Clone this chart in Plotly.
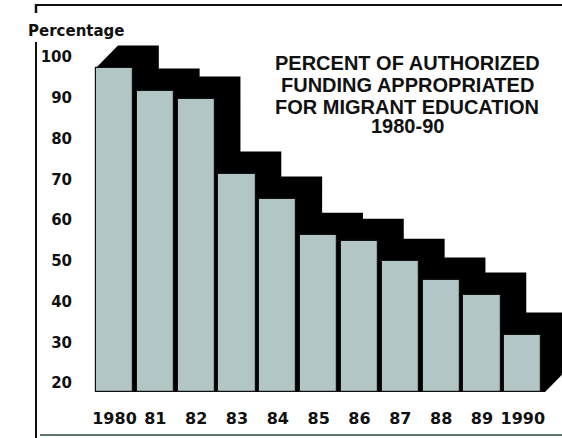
import plotly.graph_objects as go

# ---- data ----
years = ["1980", "81", "82", "83", "84", "85", "86", "87", "88", "89", "1990"]
percent = [97.3, 91.7, 89.7, 71.3, 65.2, 56.3, 54.8, 49.9, 45.3, 41.6, 31.8]
y_ticks = [20, 30, 40, 50, 60, 70, 80, 90, 100]
title_lines = ["PERCENT OF AUTHORIZED", "FUNDING APPROPRIATED",
               "FOR MIGRANT EDUCATION", "1980-90"]
y_title = "Percentage"

# ---- layout constants ----
FIG_W, FIG_H = 562, 438
ML, MR, MT, MB = 80, 0, 30, 46
PW, PH = FIG_W - ML - MR, FIG_H - MT - MB
X_RANGE = [-0.845, 10.96]
Y_RANGE = [17.79, 106.63]
BASE = Y_RANGE[0]
BAR_W = 0.91
GAP = 1 - BAR_W
DX, DY = 0.54, 5.5          # depth offset of the black "shadow"
FACE = "#b3c6c6"
INK = "#111111"
FONT = "Liberation Sans"
FONT_W = "DejaVu Sans"


def px(xp):
    return (xp - ML) / PW


def py(yp):
    return (FIG_H - MB - yp) / PH


idx = list(range(len(years)))

fig = go.Figure()

# front faces of the bars
fig.add_trace(go.Bar(
    x=idx, y=[p - BASE for p in percent], base=BASE, width=BAR_W,
    marker=dict(color=FACE, line=dict(color=INK, width=1.2)),
    hoverinfo="skip", showlegend=False,
))

shapes = []
# black extruded depth for each bar (data coordinates)
for i, v in zip(idx, percent):
    x0, x1 = i - BAR_W / 2, i + BAR_W / 2
    xr = x1 + DX + GAP
    path = (f"M {x0},{BASE} L {x0},{v} L {x0 + DX},{v + DY} "
            f"L {xr},{v + DY} L {xr},{BASE + DY} L {x1 + GAP},{BASE} Z")
    shapes.append(dict(type="path", path=path, xref="x", yref="y",
                       fillcolor="black", line=dict(width=0), layer="below"))

# frame lines
shapes += [
    dict(type="line", xref="paper", yref="paper", x0=px(36), x1=px(562),
         y0=py(5), y1=py(5), line=dict(color=INK, width=2)),
    dict(type="line", xref="paper", yref="paper", x0=px(36), x1=px(36),
         y0=py(4), y1=py(13), line=dict(color=INK, width=2.5)),
    dict(type="line", xref="paper", yref="paper", x0=px(36), x1=px(36),
         y0=py(42), y1=py(438), line=dict(color=INK, width=2)),
    dict(type="line", xref="paper", yref="paper", x0=px(40), x1=px(562),
         y0=py(435), y1=py(435), line=dict(color="#2a4a3c", width=1.5)),
]

annotations = [
    dict(text=f"<b>{y_title}</b>", xref="paper", yref="paper",
         x=px(76), y=py(31), showarrow=False, xanchor="center",
         yanchor="middle", font=dict(family=FONT_W, size=15, color=INK)),
]
for t, yp in zip(title_lines, [63, 85, 107, 126]):
    annotations.append(dict(text=f"<b>{t}</b>", xref="paper", yref="paper",
                            x=px(407), y=py(yp), showarrow=False,
                            xanchor="center", yanchor="middle",
                            font=dict(family=FONT, size=20, color=INK)))

fig.update_layout(
    width=FIG_W, height=FIG_H, autosize=False,
    margin=dict(l=ML, r=MR, t=MT, b=MB, pad=0),
    paper_bgcolor="white", plot_bgcolor="white",
    shapes=shapes, annotations=annotations, bargap=0,
    xaxis=dict(range=X_RANGE, tickvals=idx, ticktext=years, showgrid=False,
               zeroline=False, showline=False, ticks="", ticklabelstandoff=15,
               tickfont=dict(family=FONT_W, size=16, color=INK, weight="bold"),
               fixedrange=True),
    yaxis=dict(range=Y_RANGE, tickvals=y_ticks, showgrid=False,
               zeroline=False, showline=False, ticks="", ticklabelstandoff=7,
               tickfont=dict(family=FONT_W, size=15, color=INK, weight="bold"),
               fixedrange=True),
)

fig.write_html("out.html")
